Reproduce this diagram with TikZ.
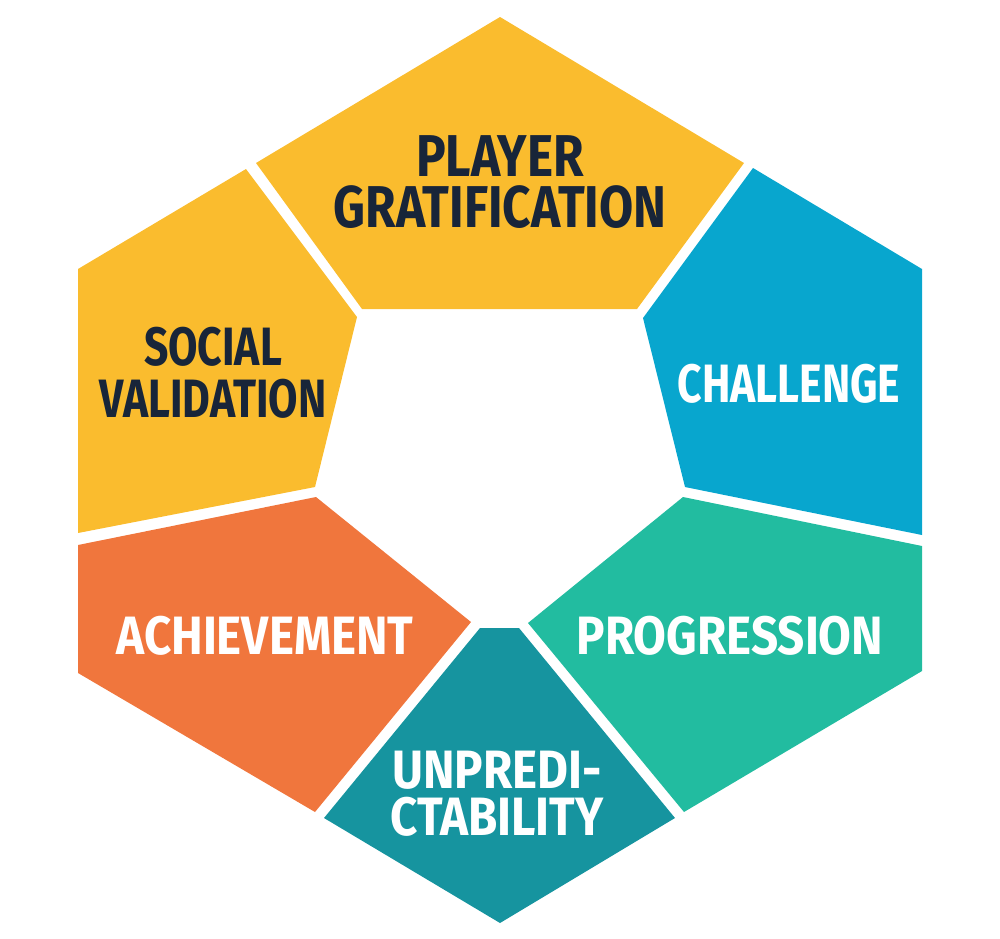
\documentclass[tikz,border=0pt]{standalone}
\usepackage{fontspec}
\newfontfamily\segfont{Fira Sans}[FakeStretch=0.84]
\newfontfamily\segfontnarrow{Fira Sans}[FakeStretch=0.79]
\newfontfamily\segfontwide{Fira Sans}[FakeStretch=0.88]
\definecolor{gold}{HTML}{FABC2E}
\definecolor{skyblue}{HTML}{08A6CE}
\definecolor{tangerine}{HTML}{F0763D}
\definecolor{mint}{HTML}{22BCA0}
\definecolor{teal}{HTML}{16949F}
\definecolor{navy}{HTML}{182539}

\begin{document}
\begin{tikzpicture}[x = 1pt, y = -1pt,
    darklabel/.style = {text = navy, align = center, inner sep = 0pt,
        font = \segfontnarrow\bfseries\fontsize{54}{52}\selectfont},
    lightlabel/.style = {darklabel, text = white,
        font = \segfontwide\bfseries\fontsize{54}{47}\selectfont}]
    \useasboundingbox (0,0) rectangle (1000,938);
    \fill [gold] (500,17) -- (744,163) -- (637,309) -- (362,309) -- (256,163) -- cycle;
    \fill [gold] (246,169) -- (78,269) -- (78,533) -- (315,487) -- (357,317) -- cycle;
    \fill [skyblue] (753,168) -- (922,269) -- (922,535) -- (685,487) -- (643,318) -- cycle;
    \fill [tangerine] (78,545) -- (316,497) -- (471,622) -- (315,812) -- (78,673) -- cycle;
    \fill [mint] (683,497) -- (922,546) -- (922,671) -- (684,812) -- (528,623) -- cycle;
    \fill [teal] (480,628) -- (519,628) -- (675,818) -- (500,923) -- (324,818) -- cycle;
    \node (player) at (500,182.5) [darklabel, font = \segfont\bfseries\fontsize{59}{51}\selectfont] {PLAYER\\GRATIFICATION};
    \node (social) at (213,372.5) [darklabel] {SOCIAL\\VALIDATION};
    \node (challenge) at (789,383.5) [lightlabel, font = \segfontnarrow\bfseries\fontsize{54}{47}\selectfont] {CHALLENGE};
    \node (achieve) at (265,635.5) [lightlabel] {ACHIEVEMENT};
    \node (progress) at (730,636) [lightlabel] {PROGRESSION};
    \node (unpredict) at (497,793.5) [lightlabel] {UNPREDI-\\CTABILITY};
\end{tikzpicture}
\end{document}
